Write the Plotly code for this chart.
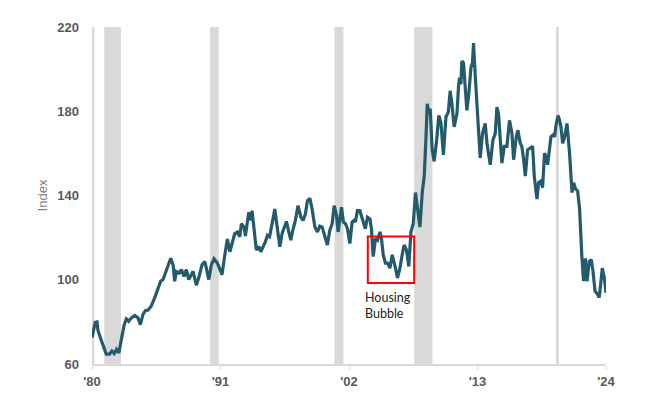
import plotly.graph_objects as go

years = [
    1980.00, 1980.28, 1980.43, 1980.51, 1980.80, 1981.22, 1981.50, 1981.70, 1981.90, 1982.10,
    1982.30, 1982.50, 1982.74, 1982.94, 1983.14, 1983.37, 1983.66, 1983.94, 1984.14, 1984.37,
    1984.57, 1984.80, 1985.08, 1985.37, 1985.65, 1985.88, 1986.08, 1986.28, 1986.51, 1986.74,
    1986.94, 1987.08, 1987.22, 1987.45, 1987.65, 1987.88, 1988.08, 1988.28, 1988.50, 1988.65,
    1988.93, 1989.14, 1989.42, 1989.65, 1989.79, 1990.00, 1990.22, 1990.45, 1990.73, 1990.94,
    1991.13, 1991.37, 1991.59, 1991.80, 1992.02, 1992.22, 1992.45, 1992.65, 1992.79, 1993.02,
    1993.13, 1993.30, 1993.42, 1993.59, 1993.70, 1993.87, 1994.07, 1994.28, 1994.45, 1994.65,
    1994.84, 1995.02, 1995.20, 1995.36, 1995.65, 1995.87, 1996.08, 1996.27, 1996.45, 1996.64,
    1996.85, 1997.02, 1997.22, 1997.41, 1997.64, 1997.88, 1998.07, 1998.27, 1998.44, 1998.65,
    1998.84, 1999.08, 1999.30, 1999.50, 1999.70, 1999.93, 2000.15, 2000.36, 2000.56, 2000.73,
    2000.93, 2001.07, 2001.22, 2001.36, 2001.52, 2001.70, 2001.87, 2002.07, 2002.27, 2002.44,
    2002.55, 2002.72, 2002.93, 2003.07, 2003.20, 2003.40, 2003.58, 2003.79, 2003.92, 2004.07,
    2004.27, 2004.44, 2004.65, 2004.78, 2004.93, 2005.12, 2005.30, 2005.50, 2005.70, 2005.87,
    2005.98, 2006.15, 2006.36, 2006.55, 2006.72, 2006.92, 2007.12, 2007.30, 2007.50, 2007.69,
    2007.86, 2008.07, 2008.27, 2008.44, 2008.58, 2008.70, 2008.84, 2008.95, 2009.12, 2009.29,
    2009.49, 2009.69, 2009.87, 2010.08, 2010.30, 2010.50, 2010.66, 2010.81, 2011.00, 2011.24,
    2011.37, 2011.46, 2011.58, 2011.66, 2011.80, 2011.95, 2012.09, 2012.23, 2012.44, 2012.57,
    2012.66, 2012.80, 2013.00, 2013.23, 2013.43, 2013.66, 2013.81, 2014.09, 2014.32, 2014.52,
    2014.66, 2014.80, 2015.09, 2015.29, 2015.52, 2015.74, 2015.95, 2016.09, 2016.32, 2016.46,
    2016.66, 2016.80, 2016.95, 2017.09, 2017.29, 2017.52, 2017.72, 2017.86, 2018.09, 2018.23,
    2018.43, 2018.57, 2018.74, 2018.89, 2019.00, 2019.29, 2019.46, 2019.60, 2019.72, 2019.89,
    2020.03, 2020.14, 2020.29, 2020.43, 2020.66, 2020.88, 2021.09, 2021.23, 2021.40, 2021.57,
    2021.74, 2021.94, 2022.08, 2022.23, 2022.37, 2022.57, 2022.74, 2022.89, 2023.06, 2023.28,
    2023.42, 2023.60, 2023.68, 2023.86, 2024.00,
]
index_values = [
    72.5, 79.8, 80.0, 75.9, 71.2, 64.7, 64.7, 66.2, 65.0, 67.0,
    65.3, 71.2, 78.3, 81.4, 80.3, 81.9, 83.0, 81.9, 78.7, 83.7,
    85.3, 85.6, 87.6, 91.5, 95.4, 99.3, 100.1, 103.2, 106.3, 110.2,
    107.1, 99.3, 104.0, 103.2, 104.8, 101.6, 104.8, 100.1, 102.4, 104.0,
    97.4, 100.9, 107.1, 108.7, 105.5, 100.1, 107.1, 109.9, 107.9, 104.8,
    102.4, 111.8, 119.3, 113.3, 117.2, 121.9, 122.7, 120.4, 126.6, 125.0,
    120.8, 128.2, 132.1, 128.2, 132.8, 124.2, 114.1, 115.7, 113.3, 115.7,
    118.0, 121.1, 120.4, 125.0, 133.6, 124.2, 115.7, 121.9, 125.0, 127.7,
    122.7, 118.8, 124.2, 128.2, 135.2, 129.7, 128.2, 131.3, 137.5, 138.6,
    133.6, 125.0, 122.7, 125.5, 125.0, 121.1, 116.5, 123.5, 126.6, 135.2,
    130.5, 122.7, 128.9, 134.4, 127.4, 126.6, 124.2, 117.2, 127.4, 128.2,
    127.4, 132.8, 132.8, 130.5, 127.4, 124.2, 129.7, 128.9, 124.2, 111.0,
    119.6, 118.8, 122.7, 119.6, 111.8, 107.9, 107.9, 105.5, 111.8, 108.7,
    105.5, 100.9, 105.5, 111.8, 116.5, 114.1, 106.3, 122.7, 126.6, 141.4,
    134.4, 125.0, 141.4, 149.2, 166.3, 183.5, 178.8, 181.2, 161.7, 156.2,
    165.6, 178.0, 174.5, 159.3, 177.3, 179.6, 189.7, 183.5, 172.6, 178.8,
    191.3, 196.0, 192.9, 203.8, 203.0, 192.9, 180.4, 186.6, 200.7, 203.0,
    212.4, 197.5, 177.3, 157.8, 169.5, 174.2, 164.8, 154.6, 166.3, 169.5,
    182.0, 178.8, 155.4, 163.3, 163.3, 175.7, 169.5, 157.0, 167.9, 171.0,
    164.8, 163.3, 157.0, 149.2, 161.7, 162.5, 163.3, 149.2, 138.3, 146.1,
    146.9, 143.7, 160.1, 157.8, 154.6, 167.9, 168.7, 167.9, 173.4, 178.0,
    175.7, 172.6, 164.8, 167.1, 174.2, 160.1, 141.4, 146.1, 143.0, 142.2,
    133.6, 110.2, 99.3, 110.2, 99.3, 108.7, 109.5, 104.0, 94.6, 93.1,
    91.5, 100.9, 105.5, 100.9, 93.8,
]

recession_starts = [1980.00, 1981.05, 1990.11, 2000.75, 2007.58, 2019.71]
recession_ends = [1980.20, 1982.48, 1990.85, 2001.52, 2009.15, 2019.97]

tick_years = [1980, 1991, 2002, 2013, 2024]
tick_labels = ["'80", "'91", "'02", "'13", "'24"]
y_ticks = [60, 100, 140, 180, 220]

bubble_x = [2003.61, 2007.58]
bubble_y = [98.5, 120.5]
bubble_label = "Housing<br>Bubble"

fig = go.Figure()

for x0, x1 in zip(recession_starts, recession_ends):
    fig.add_shape(type="rect", xref="x", yref="y", x0=x0, x1=x1, y0=60, y1=220,
                  fillcolor="#d9d9d9", line=dict(width=0), layer="below")

fig.add_trace(go.Scatter(
    x=years, y=index_values, mode="lines",
    line=dict(color="#245b6b", width=3.2),
    hoverinfo="skip", showlegend=False,
))

fig.add_shape(type="rect", xref="x", yref="y",
              x0=bubble_x[0], x1=bubble_x[1], y0=bubble_y[0], y1=bubble_y[1],
              line=dict(color="#ff0000", width=2), fillcolor="rgba(0,0,0,0)", layer="above")

fig.add_annotation(x=bubble_x[0] - 0.45, y=bubble_y[0] - 2.5, xref="x", yref="y",
                   text=bubble_label, showarrow=False, xanchor="left", yanchor="top",
                   align="left",
                   font=dict(family="Lato, Open Sans, sans-serif", size=12.5, color="#222222"))

fig.update_layout(
    width=666, height=399,
    margin=dict(l=84, r=68, t=14, b=43),
    paper_bgcolor="white", plot_bgcolor="white",
    font=dict(family="Liberation Sans, Arial, sans-serif"),
    showlegend=False,
)

fig.update_xaxes(
    range=[1980, 2024], tickvals=tick_years, ticktext=tick_labels,
    showgrid=False, zeroline=False,
    showline=True, linecolor="#d9d9d9", linewidth=2,
    ticks="outside", ticklen=4, tickcolor="#d9d9d9", tickwidth=1,
    tickfont=dict(family="Liberation Sans, Arial, sans-serif", size=13, color="#595959", weight="bold"),
)
fig.update_yaxes(
    range=[60, 220], tickvals=y_ticks,
    showgrid=False, zeroline=False, showline=False,
    ticklabelstandoff=12,
    tickfont=dict(family="Liberation Sans, Arial, sans-serif", size=13, color="#595959", weight="bold"),
    title=dict(text="Index", standoff=6,
               font=dict(family="Liberation Sans, Arial, sans-serif", size=13, color="#7f7f7f")),
)

fig.write_html("out.html")
